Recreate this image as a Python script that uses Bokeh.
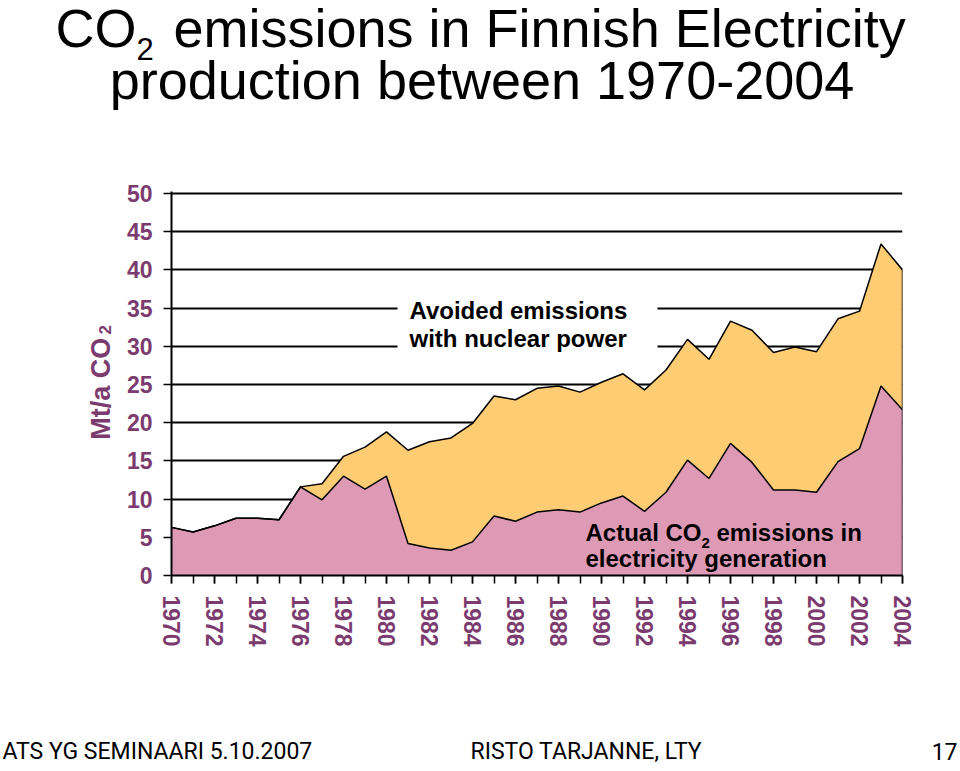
from bokeh.plotting import figure
from bokeh.models import Range1d, FixedTicker, Label, BoxAnnotation
from bokeh.layouts import column, row
from bokeh.embed import file_html
from bokeh.resources import INLINE

# ---------------- data ----------------
years = list(range(1970, 2005))
actual_co2 = [6.3, 5.7, 6.5, 7.5, 7.5, 7.3, 11.6, 9.9, 13.0, 11.3,
              13.0, 4.2, 3.6, 3.3, 4.4, 7.8, 7.1, 8.3, 8.6, 8.3,
              9.5, 10.4, 8.4, 10.9, 15.1, 12.7, 17.3, 14.8, 11.2, 11.2,
              10.9, 14.9, 16.6, 24.8, 21.7]
total_with_avoided = [6.3, 5.7, 6.5, 7.5, 7.5, 7.3, 11.6, 12.0, 15.6, 16.8,
                      18.8, 16.4, 17.5, 18.0, 19.9, 23.5, 23.0, 24.5, 24.8, 24.0,
                      25.3, 26.4, 24.3, 26.9, 30.9, 28.3, 33.3, 32.1, 29.2, 29.9,
                      29.3, 33.6, 34.6, 43.4, 40.0]
x_label_years = list(range(1970, 2005, 2))
x_tick_labels = [str(y) for y in x_label_years]
y_ticks = [0, 5, 10, 15, 20, 25, 30, 35, 40, 45, 50]

# ---------------- styling / layout ----------------
PINK = "#DE9AB5"
YELLOW = "#FECC73"
PURPLE = "#7B3B6E"
FONT = "Liberation Sans"
FOOT_FONT = "Roboto"
BASE_K = 0.39        # text anchor sits this many font-sizes above the baseline

W, H = 960, 771
TOP_H = 140          # title strip
FOOT_H = 51          # footer strip
LEFT_W = 120         # y-axis title strip
MID_H = H - TOP_H - FOOT_H
MAIN_W = W - LEFT_W

# frame edges in window px (50 sits at y=193, frame starts 2px higher)
FL, FR, FT, FB = 171, 902, 191, 575
PX_PER_UNIT = (575 - 193) / 50.0
X0, X1 = 1970, 2004
Y0, Y1 = 0, (FB - FT) / PX_PER_UNIT


def canvas_fig(w, h):
    f = figure(width=w, height=h, output_backend="svg", toolbar_location=None,
               x_range=Range1d(0, w), y_range=Range1d(h, 0),
               x_axis_type=None, y_axis_type=None, title=None,
               min_border=0, min_border_left=0, min_border_right=0,
               min_border_top=0, min_border_bottom=0)
    f.outline_line_color = None
    f.grid.visible = False
    f.background_fill_color = "white"
    f.border_fill_color = "white"
    return f


def add_text(f, text, x, y, size, style="normal", color="black", align="left",
             angle=0.0, font=FONT, line_height=1.2):
    f.add_layout(Label(x=x, y=y, x_units="data", y_units="data",
                       text=text, text_font=font, text_font_size=f"{size}px",
                       text_font_style=style, text_color=color,
                       text_align=align, text_baseline="alphabetic",
                       text_line_height=line_height, angle=angle))


def strip_text(f, text, x, baseline, size, **kw):
    add_text(f, text, x, baseline - BASE_K * size, size, **kw)


# ---------- title strip ----------
top = canvas_fig(W, TOP_H)
strip_text(top, "CO", 55, 49, 54, line_height=1.0)
strip_text(top, "2", 136, 61, 31, line_height=1.0)
strip_text(top, "emissions in Finnish Electricity", 173, 49, 54, line_height=1.0)
strip_text(top, "production between 1970-2004", 481.5, 101, 54, align="center")

# ---------- y-axis title strip (rotated) ----------
left = canvas_fig(LEFT_W, MID_H)
add_text(left, "Mt/a CO", 111 - BASE_K * 27, 438 - TOP_H, 27, style="bold",
         color=PURPLE, angle=1.5708, align="center")
add_text(left, "2", 111 - BASE_K * 17, 349 - TOP_H, 17, style="bold",
         color=PURPLE, angle=1.5708, align="center")

# ---------- footer strip ----------
foot = canvas_fig(W, FOOT_H)
fb0 = 760 - (H - FOOT_H)
strip_text(foot, "ATS YG SEMINAARI 5.10.2007", 2, fb0, 23, font=FOOT_FONT)
strip_text(foot, "RISTO TARJANNE, LTY", 470, fb0, 23, font=FOOT_FONT)
strip_text(foot, "17", 957, fb0, 23, align="right", font=FOOT_FONT)

# ---------- main chart ----------
fl, fr = FL - LEFT_W, FR - LEFT_W
ft, fb = FT - TOP_H, FB - TOP_H

p = figure(width=MAIN_W, height=MID_H, output_backend="svg", toolbar_location=None,
           x_range=Range1d(X0, X1), y_range=Range1d(Y0, Y1), title=None,
           min_border_left=fl, min_border_right=MAIN_W - fr,
           min_border_top=ft, min_border_bottom=MID_H - fb)
p.outline_line_color = None
p.background_fill_color = "white"
p.border_fill_color = "white"


def dx(wx):
    return X0 + (wx - FL) * (X1 - X0) / (FR - FL)


def dy(wy):
    return (FB - wy) / PX_PER_UNIT


p.varea(x=years, y1=0, y2=actual_co2, fill_color=PINK)
p.varea(x=years, y1=actual_co2, y2=total_with_avoided, fill_color=YELLOW)
p.line(years, total_with_avoided, line_color="black", line_width=1.5)
p.line(years, actual_co2, line_color="black", line_width=1.5)
p.segment(x0=[years[-1]], y0=[0], x1=[years[-1]], y1=[total_with_avoided[-1]],
          line_color="black", line_width=1.5)

xa = p.xaxis[0]
xa.ticker = FixedTicker(ticks=x_label_years, minor_ticks=years)
xa.major_label_overrides = {y: l for y, l in zip(x_label_years, x_tick_labels)}
xa.major_label_orientation = "vertical"
xa.major_tick_in = 0
xa.major_tick_out = 8
xa.minor_tick_in = 0
xa.minor_tick_out = 8
xa.major_tick_line_color = "black"
xa.minor_tick_line_color = "black"
xa.major_tick_line_width = 1.5
xa.minor_tick_line_width = 1.5
xa.axis_line_color = "black"
xa.axis_line_width = 2
xa.major_label_standoff = 12
xa.major_label_text_font = FONT
xa.major_label_text_font_style = "bold"
xa.major_label_text_font_size = "23px"
xa.major_label_text_color = PURPLE

ya = p.yaxis[0]
ya.ticker = FixedTicker(ticks=y_ticks, minor_ticks=[])
ya.major_tick_in = 0
ya.major_tick_out = 8
ya.major_tick_line_color = "black"
ya.major_tick_line_width = 1.5
ya.axis_line_color = "black"
ya.axis_line_width = 2
ya.major_label_standoff = 11
ya.major_label_text_font = FONT
ya.major_label_text_font_style = "bold"
ya.major_label_text_font_size = "23px"
ya.major_label_text_color = PURPLE

p.xgrid.visible = False
p.ygrid.ticker = FixedTicker(ticks=y_ticks, minor_ticks=[])
p.ygrid.grid_line_color = "black"
p.ygrid.grid_line_width = 1.8

# white box behind the upper annotation
p.add_layout(BoxAnnotation(left=dx(397), right=dx(657), bottom=dy(352), top=dy(300),
                           fill_color="white", fill_alpha=1.0, line_color=None))


def lab(text, wx, baseline, size, style="bold"):
    add_text(p, text, dx(wx), dy(baseline - BASE_K * size), size, style=style)


lab("Avoided emissions", 409, 319, 24)
lab("with nuclear power", 409, 347, 24)
lab("Actual CO", 585, 541, 24)
lab("2", 701, 548, 15)
lab("emissions in", 716, 541, 24)
lab("electricity generation", 585, 567, 24)

layout = column(top, row(left, p), foot)
open("out.html", "w").write(file_html(layout, INLINE))
